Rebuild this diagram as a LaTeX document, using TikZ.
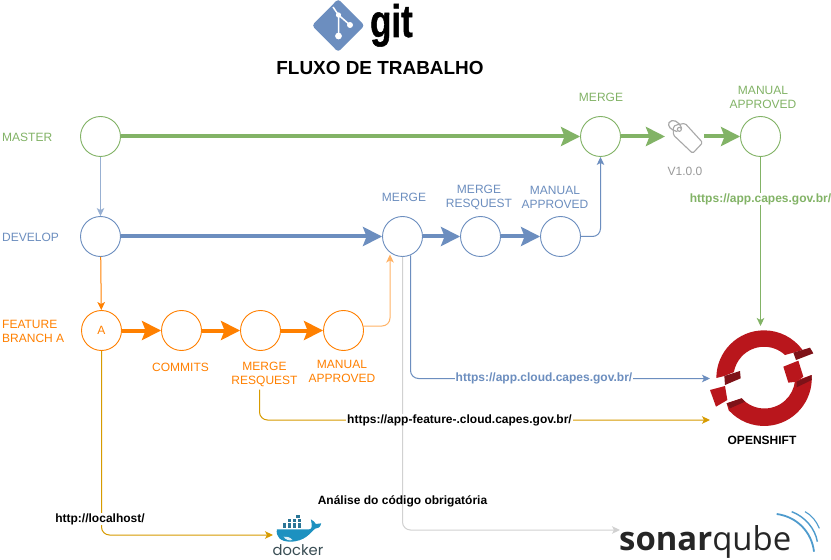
\documentclass[tikz,border=0pt]{standalone}
\usepackage{fontspec}
\setmainfont{Liberation Sans}
\newfontfamily\opensans{Open Sans}
\newfontfamily\poppins{Poppins}
\newfontfamily\gitfont[FakeBold=1.2]{Liberation Sans Bold}
\usetikzlibrary{arrows.meta}
\definecolor{cgreen}{HTML}{82B366}
\definecolor{cblue}{HTML}{6C8EBF}
\definecolor{corange}{HTML}{FF8000}
\definecolor{cgold}{HTML}{D79B00}
\definecolor{cgrey}{HTML}{999999}
\definecolor{osred}{HTML}{B9161C}
\definecolor{osdark}{HTML}{7E1218}
\definecolor{sonarblue}{HTML}{4E9BCD}
\definecolor{whale}{HTML}{1D91C0}
\definecolor{crate}{HTML}{2A7596}
\definecolor{dockertext}{HTML}{394D54}
\tikzset{
  x=1bp,y=-1bp,
  txt/.style={inner sep=0pt,align=center,font=\fontsize{12.05}{14.05}\selectfont},
  url/.style={txt,font=\fontsize{12.05}{14.05}\selectfont\bfseries,fill=white,inner xsep=1bp,inner ysep=0.5bp},
  boldtxt/.style={txt,font=\fontsize{12.05}{14.05}\selectfont\bfseries},
  commit/.style={circle,draw,fill=white,minimum size=40bp,inner sep=0pt,line width=.9bp,font=\fontsize{12.05}{14.05}\selectfont},
  thick arrow/.style={line width=4bp,-{Stealth[length=19bp,width=19bp,inset=3.5bp]}},
  thin arrow/.style={line width=1bp,rounded corners=8bp,-{Stealth[length=8bp,width=7.5bp,inset=2bp]}},
  crate box/.style={fill=crate,draw=white,line width=.3bp},
}
\begin{document}
\begin{tikzpicture}
\useasboundingbox (0,0) rectangle (831,560);
\fill[white] (0,0) rectangle (831,560);

% git logo
\fill[cblue,rounded corners=3bp] (338.2,-1) -- (364.5,25.5) -- (338.2,52) -- (312,25.5) -- cycle;
\draw[white,line width=1.5bp] (333,7) -- (338.5,15) -- (350,25) (338.5,15) -- (338.5,36);
\fill[white] (338.5,15) circle (2.6bp) (350,25) circle (3bp) (338.5,36) circle (3.4bp);
\node[anchor=base west,inner sep=0pt,xscale=.76,font=\gitfont\fontsize{46}{46}\selectfont] (gitword) at (370,37) {git};
\node[boldtxt,font=\fontsize{19}{22}\selectfont\bfseries] (title) at (380,68) {FLUXO DE TRABALHO};

% lane labels
\node[txt,anchor=west,text=cgreen] (lmaster) at (2,137) {MASTER};
\node[txt,anchor=west,text=cblue] (ldevelop) at (2,237) {DEVELOP};
\node[txt,anchor=west,align=left,text=corange] (lfeature) at (2,331) {FEATURE\\BRANCH A};

% commits
\node[commit,draw=cgreen] (m1) at (100.5,136.5) {};
\node[commit,draw=cgreen] (m2) at (600.5,136.5) {};
\node[commit,draw=cgreen] (m3) at (760.5,136.5) {};
\node[commit,draw=cblue] (d1) at (100.5,236.5) {};
\node[commit,draw=cblue] (d2) at (402.5,236.5) {};
\node[commit,draw=cblue] (d3) at (480.5,236.5) {};
\node[commit,draw=cblue] (d4) at (560.5,236.5) {};
\node[commit,draw=corange,text=corange] (f1) at (101.5,330.5) {A};
\node[commit,draw=corange] (f2) at (181.5,330.5) {};
\node[commit,draw=corange] (f3) at (260.5,330.5) {};
\node[commit,draw=corange] (f4) at (343.5,330.5) {};

% commit labels
\node[txt,text=cgreen] (lm2) at (601,97) {MERGE};
\node[txt,text=cgreen] (lm3) at (763,97) {MANUAL\\APPROVED};
\node[txt,text=cgrey] (ltag) at (685,171) {V1.0.0};
\node[txt,text=cblue] (ld2) at (404,197) {MERGE};
\node[txt,text=cblue] (ld3) at (479,197) {MERGE\\RESQUEST};
\node[txt,text=cblue] (ld4) at (555,197) {MANUAL\\APPROVED};
\node[txt,text=corange] (lf2) at (180.5,367) {COMMITS};
\node[txt,text=corange] (lf3) at (264.5,374) {MERGE\\RESQUEST};
\node[txt,text=corange] (lf4) at (342,371) {MANUAL\\APPROVED};

% tag icon
\coordinate (tagin) at (665,136.5);
\coordinate (tagout) at (704,136.5);
\begin{scope}[shift={(640,80)},scale=1/3]
\draw[cgrey!85,line width=1.1bp,line join=round,rounded corners=1.5bp]
  (108,135) -- (135,130) -- (188,188) -- (158,220) -- (100,165) -- (100,140) -- cycle;
\draw[cgrey!85,line width=1.1bp] (118,148) circle (6);
\draw[cgrey!85,line width=1.2bp] (125,146) .. controls (118,122) and (95,115) .. (87,128) .. controls (82,138) and (92,150) .. (112,155);
\end{scope}

% logo anchors
\coordinate (osleft) at (710,378.5);
\coordinate (osleftb) at (710,420);
\coordinate (ostop) at (760.5,326);
\coordinate (dockerin) at (273,535);
\coordinate (sonarin) at (620,530);

% thick arrows
\draw[thick arrow,cgreen] (m1) -- (m2);
\draw[thick arrow,cgreen] (m2) -- (tagin);
\draw[thick arrow,cgreen] (tagout) -- (m3);
\draw[thick arrow,cblue] (d1) -- (d2);
\draw[thick arrow,cblue] (d2) -- (d3);
\draw[thick arrow,cblue] (d3) -- (d4);
\draw[thick arrow,corange] (f1) -- (f2);
\draw[thick arrow,corange] (f2) -- (f3);
\draw[thick arrow,corange] (f3) -- (f4);

% thin connectors
\draw[thin arrow,cblue!70] (m1) -- (d1);
\draw[thin arrow,corange] (d1) -- (f1);
\draw[thin arrow,cblue] (d4.east) -| (m2.south);
\draw[thin arrow,corange!60] (f4.east |- 0,326) -| (390,254.5);
\draw[thin arrow,cgrey!45] (d2.south) |- (sonarin);
\draw[thin arrow,cblue] (410.5,255.5) |- (osleft);
\draw[thin arrow,cgold] (lf3.south -| 259.5,0) ++(0,3) |- (osleftb);
\draw[thin arrow,cgold] (f1.south) |- (dockerin);
\draw[thin arrow,cgreen] (m3.south) -- (ostop);

% connector labels
\node[url,text=cgreen] (ugreen) at (760.5,199) {https://app.capes.gov.br/};
\node[url,text=cblue] (ublue) at (544,378.5) {https://app.cloud.capes.gov.br/};
\node[url] (ufeat) at (459.5,420) {https://app-feature-.cloud.capes.gov.br/};
\node[url] (uloc) at (100,519) {http://localhost/};
\node[boldtxt] (lsonar) at (402.5,501.5) {Análise do código obrigatória};
\node[boldtxt] (los) at (762,440.5) {OPENSHIFT};

% openshift logo
\begin{scope}[shift={(690,310)},scale=1/3]
\fill[osred] (79,204) arc[start angle=-180,end angle=-36,radius=143]
  -- (310,128) -- (285,135)
  arc[start angle=-47,end angle=-170,radius=92] -- (103,198) -- cycle;
\fill[osred] (365,195) arc[start angle=-4,end angle=138,radius=143]
  -- (110,280) -- (155,265)
  arc[start angle=138,end angle=6,radius=92] -- cycle;
\fill[osred] (60,240) -- (105,228) -- (112,270) -- (78,290) -- cycle;
\fill[osred] (280,170) -- (325,152) -- (340,200) -- (320,215) -- (295,218) -- cycle;
\fill[osdark] (310,128) -- (360,113) -- (370,130) -- (318,150) -- cycle;
\fill[osdark] (320,215) -- (365,195) -- (365,210) -- (320,232) -- cycle;
\fill[osdark] (110,280) -- (155,265) -- (165,275) -- (120,295) -- cycle;
\fill[osdark] (103,198) -- (150,183) -- (152,205) -- (105,225) -- cycle;
\end{scope}

% docker logo
\begin{scope}[shift={(258.5,490)},scale=1/3]
\foreach \px in {70,85,100,115} \path[crate box] (\px,97) rectangle +(14,18);
\foreach \px in {85,100,115} \path[crate box] (\px,84) rectangle +(14,13);
\path[crate box] (110,72) rectangle +(15,12);
\fill[whale] (55,118) -- (152,118) .. controls (160,118) and (162,110) .. (157,88)
  .. controls (165,92) and (170,98) .. (172,102) -- (188,100) .. controls (186,112) and (178,116) .. (170,116)
  .. controls (155,128) and (140,155) .. (95,155) .. controls (65,155) and (52,140) .. (55,118) -- cycle;
\fill[white!85!whale] (75,140) .. controls (85,138) and (95,142) .. (102,150) .. controls (92,153) and (82,150) .. (75,140) -- cycle;
\end{scope}
\node[anchor=base west,inner sep=0pt,text=dockertext,font=\poppins\fontsize{14.8}{16}\selectfont] (dockerword) at (272.5,555) {docker};

% sonarqube logo
\node[anchor=base west,inner sep=0pt,text=black!85,font=\opensans\fontsize{33}{33}\selectfont] (sonarword) at (619,550) {\textbf{sonar}qube};
\begin{scope}[shift={(610,500)},scale=1/3]
\draw[sonarblue,line width=1.8bp] (500,42) .. controls (560,50) and (605,95) .. (612,155);
\draw[sonarblue,line width=1.4bp] (545,35) .. controls (585,50) and (615,85) .. (622,125);
\draw[sonarblue,line width=1.1bp] (585,35) .. controls (605,45) and (620,65) .. (628,85);
\end{scope}
\end{tikzpicture}
\end{document}
